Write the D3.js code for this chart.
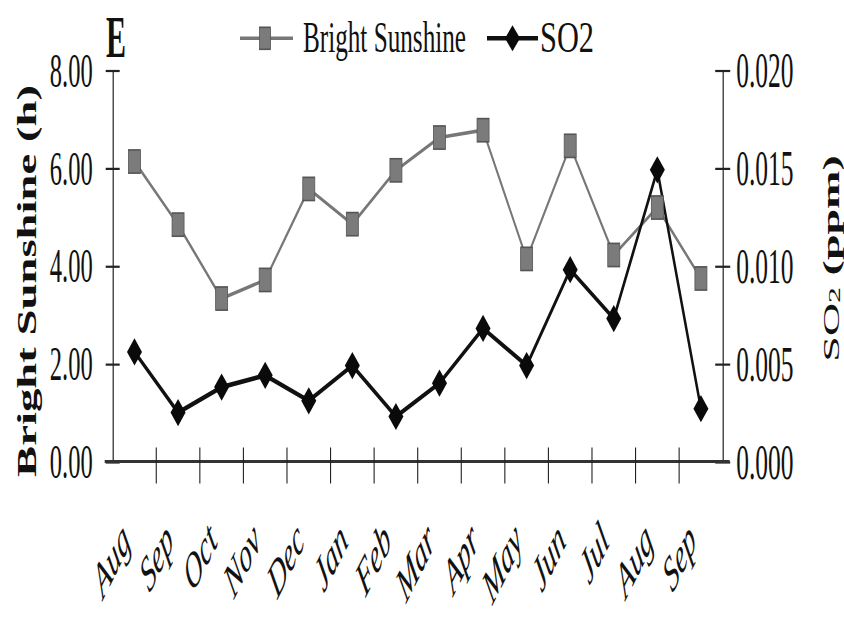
<!DOCTYPE html>
<html>
<head>
<meta charset="utf-8">
<script src="https://cdn.jsdelivr.net/npm/d3@7"></script>
<style>
  html, body { margin: 0; padding: 0; background: #fff; }
  svg { display: block; }
  text { font-family: "Liberation Serif", "Times New Roman", serif; fill: #111; }
</style>
</head>
<body>
<svg id="chart" width="844" height="617"></svg>
<script>
// ---- data ----
const months = ["Aug", "Sep", "Oct", "Nov", "Dec", "Jan", "Feb", "Mar", "Apr", "May", "Jun", "Jul", "Aug", "Sep"];
const sunshine = [6.13, 4.84, 3.33, 3.71, 5.57, 4.85, 5.95, 6.62, 6.77, 4.14, 6.45, 4.22, 5.19, 3.74];
const so2 = [0.0056, 0.0025, 0.0038, 0.0044, 0.0031, 0.0049, 0.0023, 0.0040, 0.0068, 0.0049, 0.0098, 0.0073, 0.0149, 0.0027];
const leftTicks = [0, 2, 4, 6, 8];
const rightTicks = [0, 0.005, 0.010, 0.015, 0.020];
const seriesNames = ["Bright Sunshine", "SO2"];

// ---- layout (the picture is stretched vertically; draw in a squashed frame and stretch) ----
const S = 2;              // vertical stretch
const mLeft = 112.7, mRight = 722.7;
const mTop = 70 / S, mBottom = 461.5 / S;

const svg = d3.select("#chart");
svg.append("rect").attr("width", 844).attr("height", 617).attr("fill", "#fff");
const g = svg.append("g").attr("transform", `scale(1,${S})`);

const idx = months.map((d, i) => i);
const x = d3.scaleBand().domain(idx).range([mLeft, mRight]);
const y = d3.scaleLinear().domain([0, 8]).range([mBottom, mTop]);
const y2 = d3.scaleLinear().domain([0, 0.020]).range([mBottom, mTop]);
const cx = i => x(i) + x.bandwidth() / 2;

// left axis
const axL = g.append("g").attr("transform", `translate(${mLeft},0)`)
  .call(d3.axisLeft(y).tickValues(leftTicks).tickFormat(d3.format(".2f")).tickSizeInner(7).tickSizeOuter(0).tickPadding(13));
axL.select(".domain").attr("stroke", "#222").attr("stroke-width", 1.2);
axL.selectAll(".tick line").attr("x1", 7).attr("stroke", "#222").attr("stroke-width", 1.1);
axL.selectAll(".tick text").attr("font-family", "Liberation Serif").attr("font-size", 24.5).attr("fill", "#111");

// right axis
const axR = g.append("g").attr("transform", `translate(${mRight},0)`)
  .call(d3.axisRight(y2).tickValues(rightTicks).tickFormat(d3.format(".3f")).tickSizeInner(7.5).tickSizeOuter(0).tickPadding(6));
axR.select(".domain").attr("stroke", "#222").attr("stroke-width", 1.2);
axR.selectAll(".tick line").attr("x1", -7.5).attr("stroke", "#222").attr("stroke-width", 1.1);
axR.selectAll(".tick text").attr("font-family", "Liberation Serif").attr("font-size", 25.5).attr("fill", "#111");

// x axis (baseline + crossing ticks at band edges)
g.append("line").attr("x1", mLeft - 8).attr("x2", mRight + 7).attr("y1", y(0)).attr("y2", y(0))
  .attr("stroke", "#333").attr("stroke-width", 1.4);
const edges = idx.map(i => x(i)).concat([mRight]);
g.append("g").selectAll("line").data(edges.slice(1, -1)).join("line")
  .attr("x1", d => d).attr("x2", d => d)
  .attr("y1", y(0) - 7).attr("y2", y(0) + 11)
  .attr("stroke", "#222").attr("stroke-width", 1.1);

// month labels
g.append("g").selectAll("text").data(idx).join("text")
  .attr("transform", i => `translate(${cx(i) - 3},${271.5}) rotate(-45)`)
  .attr("text-anchor", "end")
  .attr("font-style", "italic")
  .attr("font-size", 25)
  .text(i => months[i]);

// lines
const lineS = d3.line().x((d, i) => cx(i)).y(d => y(d));
const lineO = d3.line().x((d, i) => cx(i)).y(d => y2(d));
g.append("path").datum(sunshine).attr("d", lineS).attr("fill", "none").attr("stroke", "#777").attr("stroke-width", 1.8);
g.append("path").datum(so2).attr("d", lineO).attr("fill", "none").attr("stroke", "#111").attr("stroke-width", 2.4);

// markers
const sq = 12;
g.append("g").selectAll("rect").data(sunshine).join("rect")
  .attr("x", (d, i) => cx(i) - sq / 2).attr("y", d => y(d) - 5.8)
  .attr("width", sq).attr("height", 11.6)
  .attr("fill", "#7b7b7b").attr("stroke", "#555").attr("stroke-width", 0.8);
const dw = 7.5, dh = 6.8;
g.append("g").selectAll("path").data(so2).join("path")
  .attr("d", (d, i) => {
    const px = cx(i), py = y2(d);
    return `M${px},${py - dh}L${px + dw},${py}L${px},${py + dh}L${px - dw},${py}Z`;
  })
  .attr("fill", "#0a0a0a");

// axis titles
g.append("text")
  .attr("transform", `translate(36,${281 / S}) rotate(-90)`)
  .attr("text-anchor", "middle")
  .attr("font-family", "Liberation Serif")
  .attr("font-weight", "bold")
  .attr("font-size", 28)
  .attr("textLength", 196).attr("lengthAdjust", "spacingAndGlyphs")
  .text("Bright Sunshine (h)");

const rt = g.append("text")
  .attr("transform", `translate(839,${258.5 / S}) rotate(-90)`)
  .attr("text-anchor", "middle")
  .attr("font-family", "Liberation Serif")
  .attr("font-size", 23);
rt.append("tspan").text("SO");
rt.append("tspan").attr("font-size", 16).attr("dy", 1).text("2");
rt.append("tspan").attr("dy", -1).attr("font-weight", "bold").text(" (ppm)");

// panel letter
g.append("text").attr("x", 106).attr("y", 57.5 / S)
  .attr("font-weight", "bold").attr("font-size", 30).text("E");

// legend
const ly = 38.3 / S;
const lg = g.append("g");
lg.append("line").attr("x1", 240).attr("x2", 293).attr("y1", ly).attr("y2", ly).attr("stroke", "#777").attr("stroke-width", 1.8);
lg.append("rect").attr("x", 265 - 5.5).attr("y", ly - 5.5).attr("width", 11).attr("height", 11)
  .attr("fill", "#7b7b7b").attr("stroke", "#555").attr("stroke-width", 0.8);
lg.append("text").attr("x", 303).attr("y", 51.7 / S).attr("font-size", 22)
  .attr("textLength", 163).attr("lengthAdjust", "spacingAndGlyphs").text(seriesNames[0]);
lg.append("line").attr("x1", 487).attr("x2", 538).attr("y1", ly).attr("y2", ly).attr("stroke", "#111").attr("stroke-width", 2.2);
lg.append("path").attr("d", `M512.5,${ly - 6.5}L520,${ly}L512.5,${ly + 6.5}L505,${ly}Z`).attr("fill", "#0a0a0a");
lg.append("text").attr("x", 540).attr("y", 51.7 / S).attr("font-size", 22)
  .attr("textLength", 54).attr("lengthAdjust", "spacingAndGlyphs").text(seriesNames[1]);
</script>
</body>
</html>
